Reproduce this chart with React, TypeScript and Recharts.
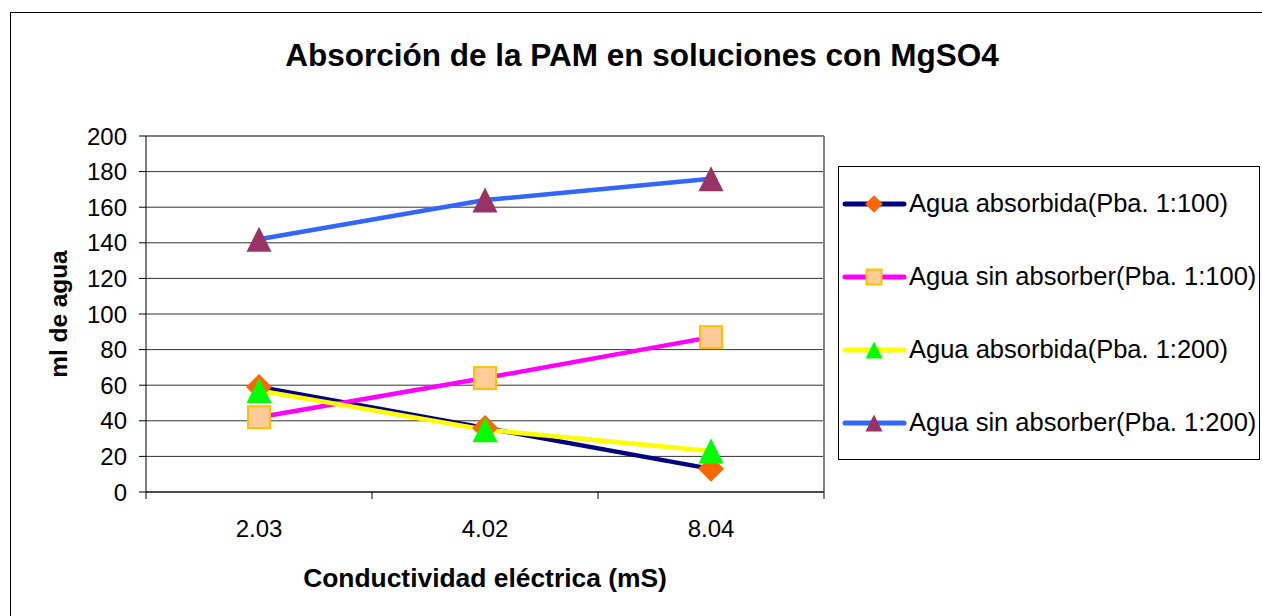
import React from 'react';
import { LineChart, Line, XAxis, YAxis, CartesianGrid, Legend, ReferenceLine } from 'recharts';

const categories = ['2.03', '4.02', '8.04'];
const absorbida100 = [59, 36, 13];
const sinAbsorber100 = [42, 64, 87];
const absorbida200 = [57, 35, 23];
const sinAbsorber200 = [142, 164, 176];
const yTicks = [0, 20, 40, 60, 80, 100, 120, 140, 160, 180, 200];
const xTicks = [0, 0.5, 1, 1.5, 2, 2.5, 3];

const FONT = 'Arial, "Liberation Sans", sans-serif';

const data = categories.map((c, i) => ({
  pos: i + 0.5,
  cat: c,
  a100: absorbida100[i],
  s100: sinAbsorber100[i],
  a200: absorbida200[i],
  s200: sinAbsorber200[i],
}));

type MarkerKind = 'diamond' | 'square' | 'triGreen' | 'triPurple';

function Marker({ kind, cx, cy, scale = 1 }: { kind: MarkerKind; cx: number; cy: number; scale?: number }) {
  if (cx == null || cy == null) return null;
  if (kind === 'diamond') {
    const w = 13 * scale, h = 13 * scale;
    return <polygon points={`${cx},${cy - h} ${cx + w},${cy} ${cx},${cy + h} ${cx - w},${cy}`} fill="#FF6600" />;
  }
  if (kind === 'square') {
    const s = 11 * scale;
    return <rect x={cx - s} y={cy - s} width={2 * s} height={2 * s} fill="#FFCC99" stroke="#FFC000" strokeWidth={2} />;
  }
  const w = 12.5 * scale, h = 12.5 * scale;
  const fill = kind === 'triGreen' ? '#00FF00' : '#993366';
  return <polygon points={`${cx},${cy - h} ${cx + w},${cy + h} ${cx - w},${cy + h}`} fill={fill} />;
}

const series: { key: string; name: string; color: string; marker: MarkerKind }[] = [
  { key: 'a100', name: 'Agua absorbida(Pba. 1:100)', color: '#000080', marker: 'diamond' },
  { key: 's100', name: 'Agua sin absorber(Pba. 1:100)', color: '#FF00FF', marker: 'square' },
  { key: 'a200', name: 'Agua absorbida(Pba. 1:200)', color: '#FFFF00', marker: 'triGreen' },
  { key: 's200', name: 'Agua sin absorber(Pba. 1:200)', color: '#3366FF', marker: 'triPurple' },
];

const XTick = (props: any) => {
  const { x, y, payload } = props;
  const v = payload.value;
  if (Number.isInteger(v)) {
    return <line x1={x} y1={y} x2={x} y2={y + 7} stroke="#000" strokeWidth={1} />;
  }
  const label = categories[Math.floor(v)];
  return (
    <text x={x} y={y + 45} textAnchor="middle" fontFamily={FONT} fontSize={24} fill="#000">
      {label}
    </text>
  );
};

const LegendContent = (props: any) => {
  const payload = props.payload || [];
  const ordered = series.filter((s) => payload.length === 0 || payload.some((p: any) => p.dataKey === s.key));
  return (
    <div
      style={{
        width: 422,
        height: 294,
        border: '1px solid #000',
        background: '#fff',
        display: 'flex',
        flexDirection: 'column',
        justifyContent: 'space-around',
        boxSizing: 'border-box',
      }}
    >
      {ordered.map((s) => (
        <div key={s.key} style={{ display: 'flex', alignItems: 'center', height: 30 }}>
          <svg width={70} height={30} style={{ flex: '0 0 auto' }}>
            <line x1={6} y1={15} x2={65} y2={15} stroke={s.color} strokeWidth={5} strokeLinecap="round" />
            <Marker kind={s.marker} cx={35} cy={15} scale={0.68} />
          </svg>
          <span style={{ fontFamily: FONT, fontSize: 25.5, color: '#000', whiteSpace: 'nowrap' }}>{s.name}</span>
        </div>
      ))}
    </div>
  );
};

export default function App() {
  return (
    <div style={{ position: 'absolute', left: 0, top: 0, width: 1262, height: 616, overflow: 'hidden', background: '#fff' }}>
      <div style={{ position: 'absolute', left: 10, top: 12, width: 1270, height: 640, border: '1px solid #000', boxSizing: 'border-box' }} />
      <svg width={1262} height={100} style={{ position: 'absolute', left: 0, top: 0 }}>
        <text x={642} y={66} textAnchor="middle" fontFamily={FONT} fontWeight="bold" fontSize={31.5} fill="#000">
          Absorción de la PAM en soluciones con MgSO4
        </text>
      </svg>
      <div style={{ position: 'absolute', left: 0, top: 0 }}>
        <LineChart width={1262} height={616} data={data} margin={{ top: 136, right: 438, bottom: 24, left: 9 }}>
          <CartesianGrid vertical={false} stroke="#333" strokeWidth={1} />
          <XAxis
            type="number"
            dataKey="pos"
            domain={[0, 3]}
            ticks={xTicks}
            interval={0}
            tick={<XTick />}
            tickLine={false}
            tickSize={0}
            tickMargin={0}
            height={100}
            axisLine={{ stroke: '#000', strokeWidth: 1 }}
            label={{
              content: (p: any) => {
                const vb = p.viewBox || { x: 146, y: 492, width: 678 };
                return (
                  <text x={vb.x + vb.width / 2} y={vb.y + 95} textAnchor="middle" fontFamily={FONT} fontWeight="bold" fontSize={26.4} fill="#000">
                    Conductividad eléctrica (mS)
                  </text>
                );
              },
            }}
          />
          <YAxis
            type="number"
            domain={[0, 200]}
            ticks={yTicks}
            interval={0}
            width={137}
            tickSize={7}
            tickMargin={12}
            tick={{ fontFamily: FONT, fontSize: 24, fill: '#000' }}
            tickLine={{ stroke: '#000' }}
            axisLine={{ stroke: '#000', strokeWidth: 1 }}
            label={{
              content: (p: any) => {
                const vb = p.viewBox || { x: 9, y: 136, height: 356 };
                const cx = 67;
                const cy = vb.y + vb.height / 2;
                return (
                  <text x={cx} y={cy} transform={`rotate(-90, ${cx}, ${cy})`} textAnchor="middle" fontFamily={FONT} fontWeight="bold" fontSize={24.4} fill="#000">
                    ml de agua
                  </text>
                );
              },
            }}
          />
          <ReferenceLine y={200} stroke="#808080" strokeWidth={2} />
          <ReferenceLine x={3} stroke="#808080" strokeWidth={2} />
          <Legend
            layout="horizontal"
            verticalAlign="middle"
            align="center"
            content={<LegendContent />}
            wrapperStyle={{ position: 'absolute', left: 838, top: 166, width: 422, height: 296 }}
          />
          {series.map((s) => (
            <Line
              key={s.key}
              type="linear"
              dataKey={s.key}
              name={s.name}
              stroke={s.color}
              strokeWidth={4.5}
              isAnimationActive={false}
              dot={(p: any) => <Marker key={`${s.key}-${p.index}`} kind={s.marker} cx={p.cx} cy={p.cy} />}
              activeDot={false}
            />
          ))}
        </LineChart>
      </div>
    </div>
  );
}
